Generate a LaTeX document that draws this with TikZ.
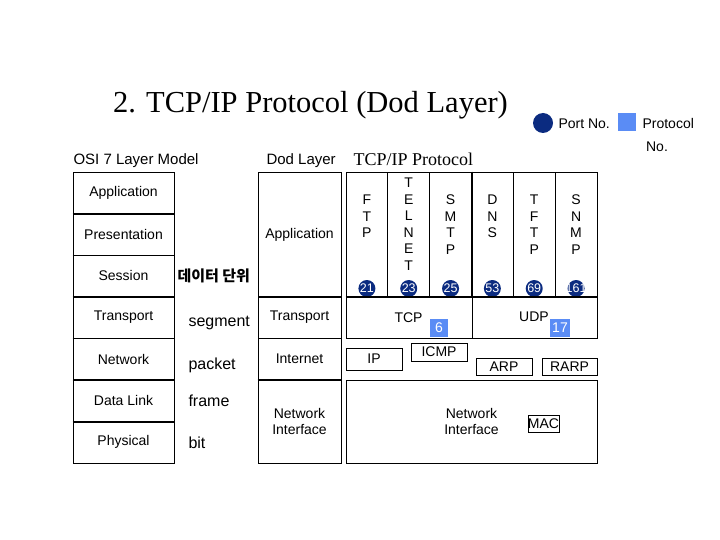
\documentclass[tikz,border=0pt]{standalone}
\usepackage{fontspec}
\setmainfont{Liberation Serif}
\setsansfont{Liberation Sans}
\newfontfamily\krfont{Noto Sans CJK KR}
\definecolor{portblue}{RGB}{11,43,128}
\definecolor{protoblue}{RGB}{90,140,245}

\begin{document}
\begin{tikzpicture}[x=1pt, y=-1pt,
		every node/.style={font=\sffamily\fontsize{14}{16.5}\selectfont},
		layerbox/.style={draw, line width=.8pt, inner sep=0pt, align=center},
		sepline/.style={line width=1.5pt},
		unit/.style={anchor=west, font=\sffamily\fontsize{16}{18}\selectfont},
		portdot/.style={circle, fill=portblue, inner sep=0pt, minimum size=17pt},
		portnum/.style={text=white, inner sep=0pt, font=\sffamily\fontsize{12.5}{12.5}\selectfont},
		protobox/.style={fill=protoblue, text=white, inner sep=0pt, minimum height=18pt}]
				\useasboundingbox (0,0) rectangle (720,540);
				\node[font=\rmfamily\fontsize{30.5}{30.5}\selectfont] (title) at (310.5,105) {2. TCP/IP Protocol (Dod Layer)};
				\node[anchor=west, font=\sffamily\fontsize{15}{15}\selectfont] (osititle) at (70,161) {OSI 7 Layer Model};
				\node[anchor=west, font=\sffamily\fontsize{15}{15}\selectfont] (dodtitle) at (263,161) {Dod Layer};
				\node[anchor=west, font=\rmfamily\fontsize{18}{18}\selectfont] (tcptitle) at (350,159) {TCP/IP Protocol};
				\node[circle, fill=portblue, minimum size=20pt, inner sep=0pt] (legdot) at (543,123) {};
				\node[anchor=west] (legport) at (555,123.5) {Port No.};
				\node[fill=protoblue, minimum size=18pt, inner sep=0pt] (legsq) at (627,122) {};
				\node[anchor=west] (legproto) at (639,123.5) {Protocol};
				\node (legno) at (657,147) {No.};
				\foreach \nm/\txt [count=\i from 0] in {app/Application, pres/Presentation, sess/Session, trans/Transport, net/Network, link/Data Link, phys/Physical}
					\node[layerbox, minimum width=101pt, minimum height=41.57pt] (osi\nm) at (123.5,192.8+41.57*\i) {\txt};
				\foreach \a/\b in {app/pres, pres/sess, sess/trans, trans/net, net/link, link/phys}
					\draw[sepline] (osi\a.south west) -- (osi\a.south east);
				\node[anchor=west, font=\krfont\bfseries\fontsize{15}{15}\selectfont] (unitdata) at (174,276) {데이터 단위};
				\node[unit] (unitseg) at (185,323) {segment};
				\node[unit] (unitpkt) at (185,365) {packet};
				\node[unit] (unitfrm) at (185,401) {frame};
				\node[unit] (unitbit) at (185,443) {bit};
				\node[layerbox, minimum width=83pt, minimum height=125pt] (dodapp) at (299.5,234.5) {Application};
				\node[layerbox, minimum width=83pt, minimum height=41.5pt] (dodtrans) at (299.5,317.5) {Transport};
				\node[layerbox, minimum width=83pt, minimum height=41.5pt] (dodnet) at (299.5,359) {Internet};
				\node[layerbox, minimum width=83pt, minimum height=83pt] (dodni) at (299.5,421.5) {Network\\Interface};
				\draw[sepline] (dodnet.south west) -- (dodnet.south east);
				\foreach \nm/\ltr/\port/\ty [count=\i from 0] in {ftp/{F\\T\\P}/21/195, telnet/{T\\E\\L\\N\\E\\T}/23/178, smtp/{S\\M\\T\\P}/25/195, dns/{D\\N\\S}/53/195, tftp/{T\\F\\T\\P}/69/195, snmp/{S\\N\\M\\P}/161/195} {
					\node[layerbox, minimum width=41.83pt, minimum height=125pt] (app\nm) at (366.9+41.83*\i,234.5) {};
					\node[anchor=north, align=center, inner sep=0pt] (ltr\nm) at (366.9+41.83*\i,\ty) {\ltr};
					\node[portdot] (port\nm) at (366.9+41.83*\i,288.5) {};
					\node[portnum] (num\nm) at (port\nm.center) {\port};
				}
				\draw[sepline] (appsmtp.north east) -- (appsmtp.south east);
				\node[layerbox, minimum width=126pt, minimum height=41.5pt] (tcp) at (409,317.5) {};
				\node[layerbox, minimum width=125pt, minimum height=41.5pt] (udp) at (534.5,317.5) {};
				\draw[sepline] (tcp.north west) -- (udp.north east);
				\draw[sepline] (tcp.north east) -- (tcp.south east);
				\node (tcplbl) at (408.5,318) {TCP};
				\node (udplbl) at (534,317) {UDP};
				\node[protobox, minimum width=18pt] (proto6) at (439,328) {6};
				\node[protobox, minimum width=20pt] (proto17) at (560,328) {17};
				\node[layerbox, minimum width=56pt, minimum height=22pt] (ip) at (374,359) {IP};
				\node[layerbox, minimum width=56pt, minimum height=18pt] (icmp) at (439,352) {ICMP};
				\node[layerbox, minimum width=56pt, minimum height=17pt] (arp) at (504,366.5) {ARP};
				\node[layerbox, minimum width=55pt, minimum height=17pt] (rarp) at (569.5,366.5) {RARP};
				\node[layerbox, minimum width=251pt, minimum height=83pt] (netif) at (471.5,421.5) {Network\\Interface};
				\node[layerbox, minimum width=31pt, minimum height=17pt] (mac) at (543.5,423.5) {MAC};
			\end{tikzpicture}
\end{document}
